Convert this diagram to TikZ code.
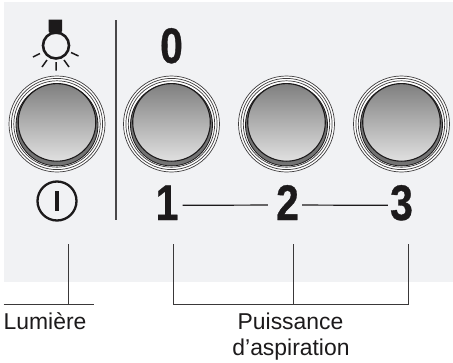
\documentclass[tikz,border=0pt]{standalone}
\usepackage{fontspec}
\setmainfont{Liberation Sans}
\newfontfamily\heavydigits[FakeBold=0.7]{Liberation Sans Bold}
\definecolor{panel}{HTML}{F1F2F4}
\definecolor{ink}{HTML}{1C1A1B}
\definecolor{leader}{HTML}{3A3839}
\tikzset{
  digit/.style={font=\fontsize{50}{50}\heavydigits,text=ink,xscale=.82,inner sep=0pt,anchor=base},
  caption/.style={font=\fontsize{22.9}{27}\selectfont,text=ink,inner sep=0pt,anchor=base},
  leaderline/.style={draw=leader,line width=.8pt},
  ringline/.style={draw=ink!85,line width=.7pt},
  btnface/.style={circle,inner sep=0pt,minimum size=96pt,draw=ink!85,line width=.7pt,fill=white},
}
\newcommand{\pushbtn}[3]{%
  \node[btnface] (#1) at (#2,#3) {};
  \draw[ringline] (#2,#3) circle (45.6);
  \draw[ringline,fill=white] (#2,#3) circle (43.2);
  \fill[black!55] (#2,#3+.9) circle (41);
  \draw[ink,line width=.8pt] (#2,#3+.9) circle (41);
  \shade[top color=black!50,bottom color=black!12] (#2,#3-1.6) circle (38.8);
  \draw[ink,line width=1.1pt] (#2,#3-1.6) circle (38.8);
}
\begin{document}
\begin{tikzpicture}[x=1pt,y=-1pt]
\useasboundingbox[fill=white] (0,0) rectangle (453,362);
\fill[panel] (4,2) rectangle (453,282);
% divider
\coordinate (divT) at (116,20);
\coordinate (divB) at (116,220);
\draw[draw=ink!80,line width=1.2pt] (divT) -- (divB);
% buttons
\pushbtn{b0}{57}{124}
\pushbtn{b1}{171.5}{124}
\pushbtn{b2}{286.5}{124}
\pushbtn{b3}{401.5}{124}
% bulb
\fill[ink] (48.5,19.5) -- (62,19.5) -- (62,31) -- (60,34) -- (50.5,34) -- (48.5,31) -- cycle;
\draw[ink,line width=2.6pt] (56,45.5) circle (13);
\draw[ink,line width=1.5pt]
  (33,57) -- (40,53.5) (42,67) -- (47,60) (56,70.5) -- (56,62) (69,67) -- (64,60) (78.5,56) -- (71,52.5);
% on symbol
\node[circle,draw=ink,line width=2.3pt,minimum size=39pt,inner sep=0pt] (onsym) at (57,201) {};
\draw[ink,line width=3.2pt] (57,191) -- (57,211);
% digits
\node[digit] (d0) at (171.5,63) {0};
\node[digit] (d1) at (167,220) {1};
\node[digit] (d2) at (287.5,220) {2};
\node[digit] (d3) at (401.5,220) {3};
\draw[ink,line width=1.2pt] ([xshift=4pt,yshift=-2.5pt]d1.east) -- ([xshift=-8pt,yshift=-2.5pt]d2.west);
\draw[ink,line width=1.2pt] ([xshift=3pt,yshift=-2.5pt]d2.east) -- ([xshift=-2pt,yshift=-2.5pt]d3.west);
% leaders
\coordinate (lt) at (68,244);
\coordinate (lb) at (68,304.5);
\coordinate (ll) at (3.5,304.5);
\coordinate (lr) at (94,304.5);
\draw[leaderline] (lt) -- (lb);
\draw[leaderline] (ll) -- (lr);
\coordinate (pa) at (173.5,244);
\coordinate (pb) at (293,244);
\coordinate (pc) at (408,244);
\coordinate (pm) at (293,304.5);
\draw[leaderline] (pa) |- (pm) -| (pc);
\draw[leaderline] (pb) -- (pm);
% captions
\node[caption,anchor=base west] (lum) at (3.5,329) {Lumière};
\node[caption] (pui) at (290.5,329) {Puissance};
\node[caption] (asp) at (291,355) {d’aspiration};
\end{tikzpicture}
\end{document}
